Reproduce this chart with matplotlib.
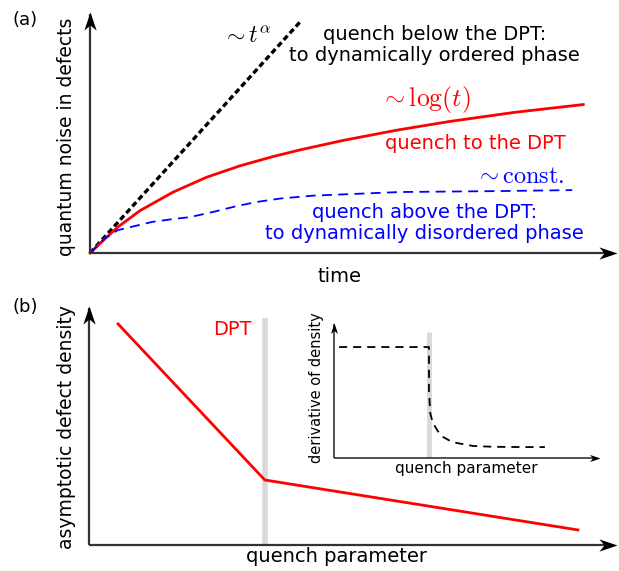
import matplotlib
matplotlib.use("Agg")
import matplotlib.pyplot as plt
from matplotlib.path import Path

plt.rcParams['font.family'] = ['DejaVu Sans']
plt.rcParams['mathtext.fontset'] = 'cm'

W, H = 619, 571

# panel (a): quantum noise vs time (axes units, 1 = arrow tip)
t_alpha_x = [0.0, 0.402]
t_alpha_y = [0.0, 0.967]
log_x = [0.0, 0.027, 0.053, 0.095, 0.158, 0.222, 0.285, 0.347, 0.399, 0.480, 0.583, 0.683, 0.807, 0.936]
log_y = [0.0, 0.056, 0.108, 0.176, 0.253, 0.315, 0.362, 0.400, 0.428, 0.467, 0.510, 0.546, 0.584, 0.616]
const_x = [0.0, 0.029, 0.053, 0.118, 0.158, 0.190, 0.233, 0.279, 0.317, 0.361, 0.423, 0.588, 0.778, 0.915]
const_y = [0.0, 0.062, 0.095, 0.129, 0.141, 0.149, 0.170, 0.195, 0.212, 0.226, 0.238, 0.253, 0.257, 0.261]

# panel (b): asymptotic density vs quench parameter
dens_x = [0.055, 0.333, 0.926]
dens_y = [0.925, 0.272, 0.063]
dpt_b = 0.334

# inset: derivative of density
deriv_x = [0.019, 0.357, 0.357, 0.362, 0.372, 0.390, 0.410, 0.435, 0.462, 0.523, 0.600, 0.700, 0.793]
deriv_y = [0.822, 0.822, 0.500, 0.330, 0.259, 0.200, 0.156, 0.128, 0.111, 0.089, 0.083, 0.081, 0.081]
dpt_in = 0.357

AXC = '#333333'
HEAD_R = Path([(0, 0), (-1, 0.34), (-0.72, 0), (-1, -0.34), (0, 0)],
              [Path.MOVETO, Path.LINETO, Path.LINETO, Path.LINETO, Path.CLOSEPOLY])
HEAD_U = Path([(0, 0), (0.34, -1), (0, -0.72), (-0.34, -1), (0, 0)],
              [Path.MOVETO, Path.LINETO, Path.LINETO, Path.LINETO, Path.CLOSEPOLY])


def px_box(left, top, right, bottom):
    return [left / W, 1 - bottom / H, (right - left) / W, (bottom - top) / H]


def fx(x):
    return x / W


def fy(y):
    return 1 - y / H


def arrows(ax, lw=1.6, ms=26):
    ax.plot([0, 0.99], [0, 0], color=AXC, lw=lw, clip_on=False, solid_capstyle='butt')
    ax.plot([0, 0], [0, 0.99], color=AXC, lw=lw, clip_on=False, solid_capstyle='butt')
    ax.plot([1], [0], marker=HEAD_R, ms=ms, color='black', mew=0, clip_on=False)
    ax.plot([0], [1], marker=HEAD_U, ms=ms, color='black', mew=0, clip_on=False)


def blank(ax):
    ax.set_xlim(0, 1)
    ax.set_ylim(0, 1)
    ax.axis('off')


fig = plt.figure(figsize=(W / 100, H / 100), dpi=100)

# ---- panel (a)
ax1 = fig.add_axes(px_box(90, 12, 617, 253))
blank(ax1)
ax1.plot(t_alpha_x, t_alpha_y, color='black', lw=2.4, dashes=(1.7, 1.0), clip_on=False)
ax1.plot(log_x, log_y, color='red', lw=2, clip_on=False)
ax1.plot(const_x, const_y, color='blue', lw=1.3, dashes=(5.5, 3.5), clip_on=False)
arrows(ax1)

ax1.text(0.298, 0.900, r'$\sim t^{\alpha}$', fontsize=17, ha='center', va='center')
ax1.text(0.653, 0.863, 'quench below the DPT:\nto dynamically ordered phase',
         fontsize=14, ha='center', va='center', linespacing=1.1)
ax1.text(0.637, 0.635, r'$\sim \log(t)$', color='red', fontsize=18.5, ha='center', va='center')
ax1.text(0.731, 0.456, 'quench to the DPT', color='red', fontsize=14, ha='center', va='center')
ax1.text(0.816, 0.320, r'$\sim \mathrm{const.}$', color='blue', fontsize=17.5, ha='center', va='center')
ax1.text(0.634, 0.124, 'quench above the DPT:\nto dynamically disordered phase',
         color='blue', fontsize=14, ha='center', va='center', linespacing=1.1)

fig.text(fx(25), fy(20), '(a)', fontsize=13, ha='center', va='center')
fig.text(fx(66), fy(137), 'quantum noise in defects', fontsize=13.5, rotation=90, ha='center', va='center')
fig.text(fx(340), fy(277), 'time', fontsize=14, ha='center', va='center')

# ---- panel (b)
ax2 = fig.add_axes(px_box(89, 306, 617, 545))
blank(ax2)
ax2.plot([dpt_b, dpt_b], [0, 0.95], color='#d9d9d9', lw=4, solid_capstyle='butt')
ax2.plot(dens_x, dens_y, color='red', lw=2)
arrows(ax2)
ax2.text(0.271, 0.90, 'DPT', color='red', fontsize=14, ha='center', va='center')

fig.text(fx(25), fy(307), '(b)', fontsize=13, ha='center', va='center')
fig.text(fx(66), fy(427), 'asymptotic defect density', fontsize=13.5, rotation=90, ha='center', va='center')
fig.text(fx(336), fy(556), 'quench parameter', fontsize=14, ha='center', va='center')

# ---- inset
ax3 = fig.add_axes(px_box(334, 323, 600, 458))
blank(ax3)
ax3.plot([dpt_in, dpt_in], [0, 0.933], color='#d9d9d9', lw=3.5, solid_capstyle='butt')
ax3.plot(deriv_x, deriv_y, color='black', lw=1.3, dashes=(4.5, 3.3))
arrows(ax3, lw=1.2, ms=15)

fig.text(fx(316), fy(388), 'derivative of density', fontsize=10.5, rotation=90, ha='center', va='center')
fig.text(fx(466), fy(469), 'quench parameter', fontsize=11, ha='center', va='center')

fig.savefig('out.png', dpi=100)
